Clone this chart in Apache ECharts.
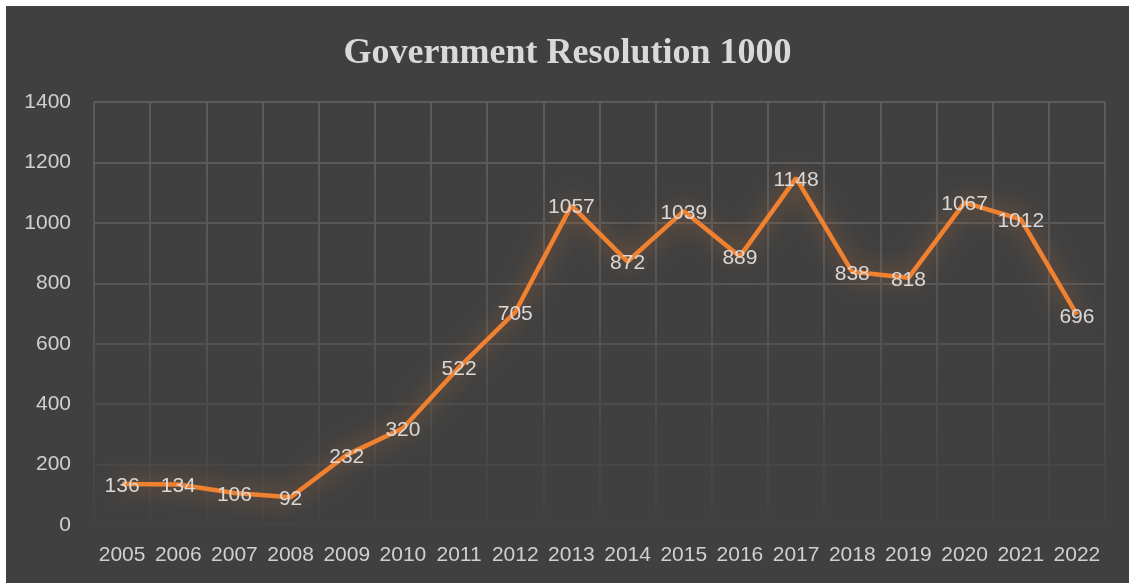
<!DOCTYPE html>
<html>
<head>
<meta charset="utf-8">
<script src="https://cdn.jsdelivr.net/npm/echarts@6/dist/echarts.min.js"></script>
<style>
html,body{margin:0;padding:0;background:#ffffff;width:1129px;height:583px;overflow:hidden;}
#chart{position:absolute;left:6px;top:6px;width:1123px;height:577px;}
</style>
</head>
<body>
<div id="chart"></div>
<script>
const titleText = 'Government Resolution 1000';
const years = ['2005','2006','2007','2008','2009','2010','2011','2012','2013','2014','2015','2016','2017','2018','2019','2020','2021','2022'];
const values = [136,134,106,92,232,320,522,705,1057,872,1039,889,1148,838,818,1067,1012,696];
const yMin = 0, yMax = 1400, yStep = 200;

const chart = echarts.init(document.getElementById('chart'), null, {renderer:'canvas'});
const gridTop = 96, gridBottomPx = 519;
const fadeGrid = {
  type:'linear', x:0, y:gridTop, x2:0, y2:gridBottomPx, global:true,
  colorStops:[{offset:0,color:'#5c5c5c'},{offset:0.45,color:'#555555'},{offset:1,color:'#424242'}]
};
chart.setOption({
  backgroundColor:'#404040',
  animation:false,
  title:{
    text:titleText, left:'center', top:25,
    textStyle:{fontFamily:'Liberation Serif', fontWeight:'bold', fontSize:36, color:'#d9d9d9'}
  },
  grid:{left:88, right:24, top:gridTop, bottom:58},
  xAxis:{
    type:'category', data:years, boundaryGap:true,
    axisLine:{show:false}, axisTick:{show:false},
    axisLabel:{color:'#d0d0d0', fontFamily:'Liberation Sans', fontSize:21, margin:20, interval:0},
    splitLine:{show:true, interval:0, lineStyle:{color:fadeGrid, width:2}}
  },
  yAxis:{
    type:'value', min:yMin, max:yMax, interval:yStep,
    axisLine:{show:false}, axisTick:{show:false},
    axisLabel:{color:'#d0d0d0', fontFamily:'Liberation Sans', fontSize:21, margin:23, formatter:function(v){return String(v);}},
    splitLine:{show:true, lineStyle:{color:fadeGrid, width:2}}
  },
  series:[{
    type:'line', data:values, symbol:'circle', symbolSize:1, showSymbol:true,
    itemStyle:{color:'rgba(0,0,0,0)'},
    lineStyle:{color:'#F0812F', width:4.5, shadowColor:'rgba(240,129,47,0.6)', shadowBlur:22},
    label:{show:true, position:'inside', offset:[0,2], color:'#d9d9d9', fontFamily:'Liberation Sans', fontSize:21}
  }]
});
</script>
</body>
</html>
